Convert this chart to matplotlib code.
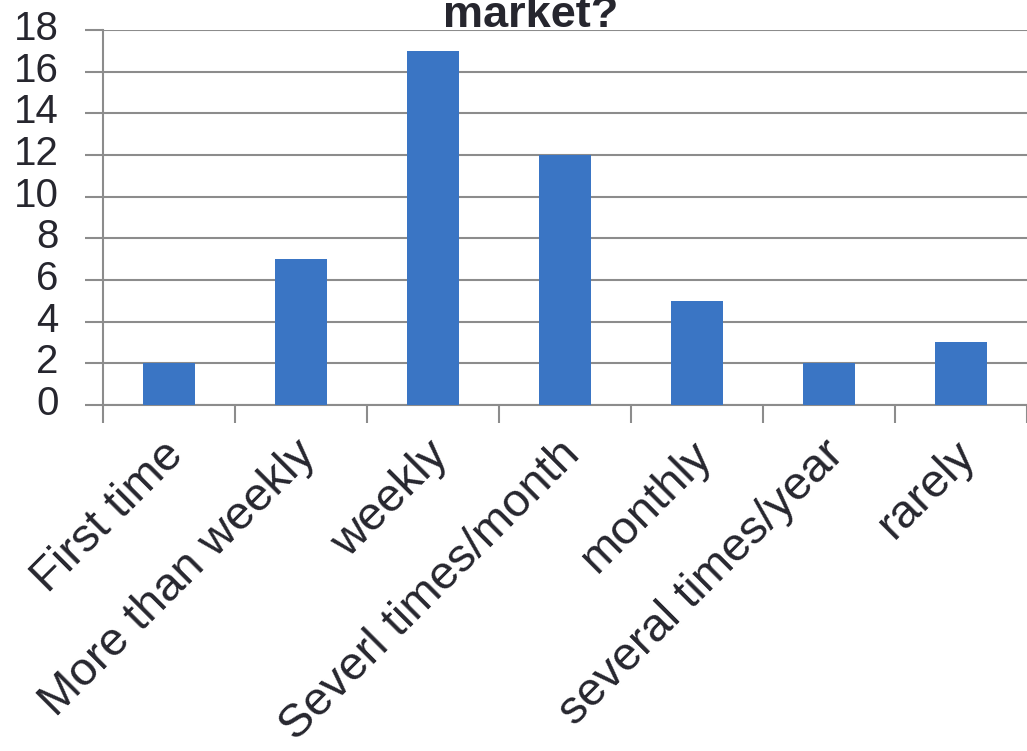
import numpy as np
import matplotlib
matplotlib.use('Agg')
import matplotlib.pyplot as plt
import matplotlib.transforms as mtransforms

categories = ['First time', 'More than weekly', 'weekly', 'Severl times/month',
              'monthly', 'several times/year', 'rarely']
counts = [2, 7, 17, 12, 5, 2, 3]
yticks = [0, 2, 4, 6, 8, 10, 12, 14, 16, 18]

plt.rcParams['font.family'] = ['Liberation Sans', 'DejaVu Sans']
grey = '#8c8c8c'
txt = '#26262e'

fig = plt.figure(figsize=(10.27, 7.51), dpi=100)
ax = fig.add_axes([103 / 1027, 1 - 405 / 751, 1 - 103 / 1027, 375 / 751])

x = np.arange(len(categories))
ax.bar(x, counts, width=0.4, color='#3a75c4', zorder=3)

ax.set_xlim(-0.5, len(categories) - 0.5)
ax.set_ylim(0, 18)
ax.set_yticks(yticks)
ax.set_yticklabels([str(v) for v in yticks], fontsize=29, color=txt)
ax.yaxis.grid(True, color=grey, linewidth=1.5, zorder=0)
ax.tick_params(axis='y', length=13, width=1.5, color=grey, pad=19)
up = mtransforms.ScaledTranslation(0, 5 / 100, fig.dpi_scale_trans)
for lab in ax.get_yticklabels():
    lab.set_transform(lab.get_transform() + up)

ax.set_xticks(x)
ax.set_xticklabels(categories, rotation=45, ha='right', va='center',
                   rotation_mode='anchor', fontsize=34, color=txt)
ax.tick_params(axis='x', which='major', length=0, pad=31)
shift = mtransforms.ScaledTranslation(8 / 100, 0, fig.dpi_scale_trans)
for lab in ax.get_xticklabels():
    lab.set_transform(lab.get_transform() + shift)
ax.set_xticks(np.arange(-0.5, len(categories)), minor=True)
ax.tick_params(axis='x', which='minor', length=13, width=1.5, color=grey)

for s in ['top', 'right']:
    ax.spines[s].set_visible(False)
for s in ['left', 'bottom']:
    ax.spines[s].set_color(grey)
    ax.spines[s].set_linewidth(1.5)

# title is partly off the top edge in the original
fig.text(531 / 1027, 1 - 27 / 751, 'market?', ha='center', va='baseline',
         fontsize=32.5, fontweight='bold', color=txt)

fig.savefig('out.png', dpi=100)
